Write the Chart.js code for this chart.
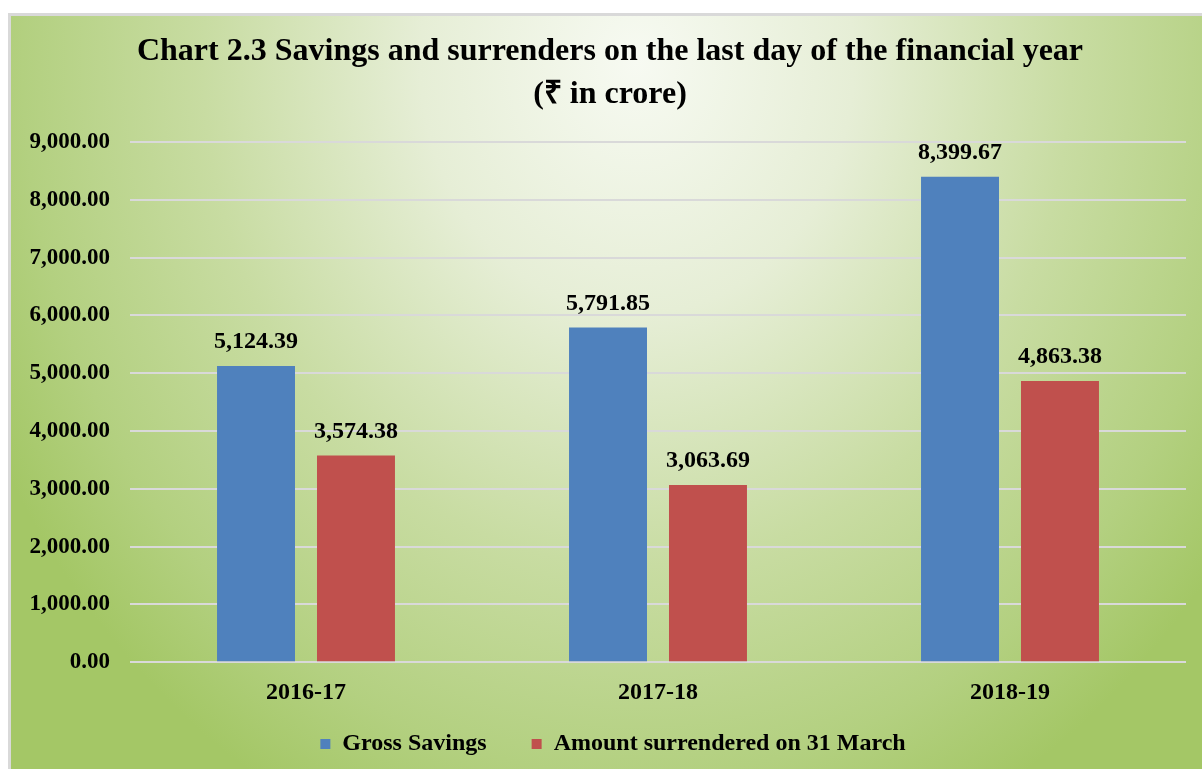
<!DOCTYPE html>
<html lang="en">

<head>
    <meta charset="UTF-8">
    <title>Savings and surrenders</title>
    <script src="https://cdn.jsdelivr.net/npm/chart.js"></script>
    <style>
        body { margin: 0; background: #fff; }
        .frame {
            position: absolute; left: 8px; top: 13px; width: 1210px; height: 770px;
            border: 3px solid #d9d9d9; box-sizing: border-box;
            background: radial-gradient(ellipse 60% 110% at 52% 6%, #f7faf2 0%, #e6eed6 30%, #c8dca2 60%, #b3d080 85%, #a4c766 100%);
        }
        .chart-box { position: absolute; left: 0; top: 0; width: 1202px; height: 769px; }
    </style>
</head>

<body>
    <div class="frame"></div>
    <div class="chart-box">
        <canvas id="savingsChart"></canvas>
    </div>

    <script>
        // Data
        const years = ['2016-17', '2017-18', '2018-19'];
        const grossSavings = [5124.39, 5791.85, 8399.67];
        const amountSurrendered = [3574.38, 3063.69, 4863.38];
        const yTicks = [0, 1000, 2000, 3000, 4000, 5000, 6000, 7000, 8000, 9000];
        const titleLines = ['Chart 2.3 Savings and surrenders on the last day of the financial year', '(₹ in crore)'];

        const serif = '"Liberation Serif", "Times New Roman", serif';
        Chart.defaults.color = '#000';
        Chart.defaults.font.family = serif;
        Chart.defaults.font.weight = 'bold';

        const fmt = v => v.toLocaleString('en-US', { minimumFractionDigits: 2, maximumFractionDigits: 2 });

        // Title (sits a little right of centre, like the original) and value labels above bars
        const annotate = {
            id: 'annotate',
            afterLayout(chart) {
                // legend in the original is offset to the right too
                chart.legend.left += 20;
                chart.legend.right += 20;
            },
            afterDraw(chart) {
                const ctx = chart.ctx;
                ctx.save();
                ctx.fillStyle = '#000';
                ctx.textAlign = 'center';
                ctx.textBaseline = 'middle';
                ctx.font = 'bold 32px ' + serif;
                titleLines.forEach((t, i) => ctx.fillText(t, 610, 52 + i * 43));
                ctx.font = 'bold 24px ' + serif;
                chart.data.datasets.forEach((ds, i) => {
                    chart.getDatasetMeta(i).data.forEach((bar, j) => {
                        ctx.fillText(fmt(ds.data[j]), bar.x, bar.y - 24);
                    });
                });
                ctx.restore();
            }
        };

        new Chart(document.getElementById('savingsChart'), {
            type: 'bar',
            data: {
                labels: years,
                datasets: [{
                    label: 'Gross Savings      ',
                    data: grossSavings,
                    backgroundColor: '#4f81bd'
                }, {
                    label: 'Amount surrendered on 31 March',
                    data: amountSurrendered,
                    backgroundColor: '#c0504d'
                }]
            },
            options: {
                responsive: true,
                maintainAspectRatio: false,
                animation: false,
                categoryPercentage: 0.568,
                barPercentage: 0.78,
                layout: { padding: { left: 0, right: 16, top: 142, bottom: 3 } },
                scales: {
                    y: {
                        min: 0,
                        max: 9000,
                        afterBuildTicks: scale => { scale.ticks = yTicks.map(v => ({ value: v })); },
                        afterFit: scale => { scale.width = 130; },
                        border: { display: false },
                        grid: { color: '#d9d9d9', lineWidth: 2, drawTicks: false },
                        ticks: {
                            padding: 20,
                            font: { size: 23, weight: 'bold' },
                            callback: v => fmt(v)
                        }
                    },
                    x: {
                        border: { display: false },
                        grid: { display: false, drawTicks: false },
                        ticks: { padding: 16, font: { size: 24, weight: 'bold' } }
                    }
                },
                plugins: {
                    title: { display: false },
                    legend: {
                        position: 'bottom',
                        labels: {
                            boxWidth: 10,
                            boxHeight: 10,
                            padding: 9,
                            font: { size: 24, weight: 'bold' }
                        }
                    },
                    tooltip: { enabled: false }
                }
            },
            plugins: [annotate]
        });
    </script>
</body>

</html>
